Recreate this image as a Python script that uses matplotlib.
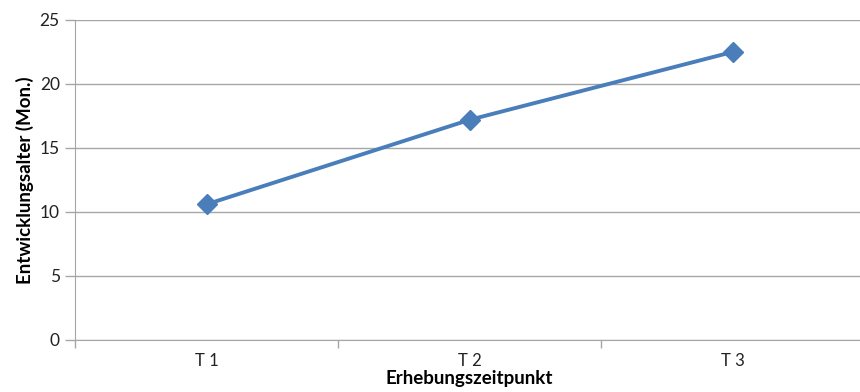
import matplotlib.pyplot as plt
from matplotlib.ticker import FixedLocator

categories = ["T 1", "T 2", "T 3"]
values = [10.6, 17.2, 22.5]
y_ticks = [0, 5, 10, 15, 20, 25]

plt.rcParams['font.family'] = ['Lato', 'DejaVu Sans']

fig = plt.figure(figsize=(8.6, 3.92), dpi=100)
ax = fig.add_axes([75 / 860, 52 / 392, 789 / 860, 320 / 392])

grid_c = '#a6a6a6'
pos = list(range(len(categories)))
ax.plot(pos, values, color='#4a7ebb', linewidth=2.8, marker='D',
        markersize=10, markeredgecolor='#4a7ebb', zorder=3, clip_on=False)

ax.set_xlim(-0.5, len(categories) - 0.5)
ax.set_ylim(0, 25)
ax.set_yticks(y_ticks)
ax.yaxis.grid(True, color=grid_c, linewidth=1)
ax.set_axisbelow(True)

# category labels in the middle, tick marks on the boundaries
ax.set_xticks(pos)
ax.set_xticklabels(categories)
ax.xaxis.set_minor_locator(FixedLocator([p + 0.5 for p in pos[:-1]] + [-0.5]))
ax.tick_params(axis='x', which='major', length=0, pad=9, labelsize=12, colors='#222222')
ax.tick_params(axis='x', which='minor', length=6, color=grid_c, width=1)
ax.tick_params(axis='y', length=7, color=grid_c, width=1, pad=4, labelsize=12.5, labelcolor='#222222')

for s in ['top', 'right']:
    ax.spines[s].set_visible(False)
ax.spines['left'].set_color(grid_c)
ax.spines['bottom'].set_color(grid_c)

ax.set_ylabel('Entwicklungsalter (Mon.)', fontsize=13.5, fontweight='bold', labelpad=4)
ax.set_xlabel('Erhebungszeitpunkt', fontsize=13.5, fontweight='bold', labelpad=1)

fig.savefig('out.png', dpi=100)
